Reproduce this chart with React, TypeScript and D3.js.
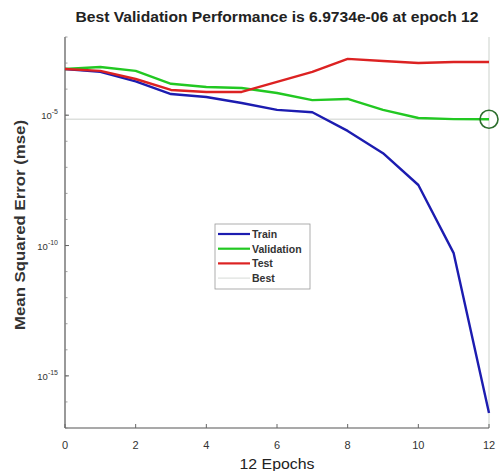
import { line, scaleLinear, scaleLog } from "d3";

const WIDTH = 501;
const HEIGHT = 471;
const MARGIN = { top: 37, right: 12, bottom: 43, left: 65 };

const EPOCHS = [0, 1, 2, 3, 4, 5, 6, 7, 8, 9, 10, 11, 12];
const TRAIN = [5.9e-4, 4.6e-4, 2.0e-4, 6.5e-5, 5.0e-5, 2.95e-5, 1.6e-5, 1.3e-5, 2.5e-6, 3.5e-7, 2.1e-8, 5.1e-11, 3.8e-17];
const VALIDATION = [5.9e-4, 7.1e-4, 5.0e-4, 1.6e-4, 1.2e-4, 1.1e-4, 7.1e-5, 3.8e-5, 4.2e-5, 1.6e-5, 7.8e-6, 7.1e-6, 6.9734e-6];
const TEST = [5.9e-4, 5.0e-4, 2.45e-4, 9.3e-5, 7.8e-5, 7.8e-5, 1.9e-4, 4.6e-4, 1.45e-3, 1.2e-3, 1.0e-3, 1.1e-3, 1.1e-3];

const BEST_EPOCH = 12;
const BEST_VALUE = 6.9734e-6;

const X_TICKS = [0, 2, 4, 6, 8, 10, 12];
const Y_TICK_EXPONENTS = [-5, -10, -15];
const Y_DOMAIN = [1e-17, 1e-2];

const SERIES = [
  { name: "Train", values: TRAIN, color: "#1c1cb0" },
  { name: "Validation", values: VALIDATION, color: "#22c822" },
  { name: "Test", values: TEST, color: "#dc2222" },
];

const BEST_COLOR = "#dde0dd";

export default function App() {
  const x = scaleLinear()
    .domain([0, 12])
    .range([MARGIN.left, WIDTH - MARGIN.right]);
  const y = scaleLog()
    .domain(Y_DOMAIN)
    .range([HEIGHT - MARGIN.bottom, MARGIN.top]);

  const path = line<number>()
    .x((_, i) => x(EPOCHS[i]))
    .y((d) => y(d));

  const bottom = HEIGHT - MARGIN.bottom;
  const minorDecades = Array.from({ length: 16 }, (_, i) => -17 + i);
  const font = "'Liberation Sans', Arial, sans-serif";

  const legendX = 215;
  const legendY = 224;
  const legendRows = [...SERIES, { name: "Best", values: [], color: BEST_COLOR }];

  return (
    <svg
      width={WIDTH}
      height={HEIGHT}
      viewBox={`0 0 ${WIDTH} ${HEIGHT}`}
      style={{ position: "absolute", left: 0, top: 0, background: "#fff" }}
      fontFamily={font}
    >
      <rect width={WIDTH} height={HEIGHT} fill="#fff" />

      {/* best markers */}
      <line x1={MARGIN.left} x2={WIDTH - MARGIN.right} y1={y(BEST_VALUE)} y2={y(BEST_VALUE)} stroke={BEST_COLOR} strokeWidth={1.5} />
      <line x1={x(BEST_EPOCH)} x2={x(BEST_EPOCH)} y1={MARGIN.top} y2={bottom} stroke={BEST_COLOR} strokeWidth={1.5} />

      {/* axes */}
      <line x1={MARGIN.left} x2={MARGIN.left} y1={MARGIN.top} y2={bottom} stroke="#555" strokeWidth={1.2} />
      <line x1={MARGIN.left} x2={WIDTH - MARGIN.right} y1={bottom} y2={bottom} stroke="#555" strokeWidth={1.2} />

      {minorDecades.map((e) => (
        <line key={e} x1={MARGIN.left} x2={MARGIN.left + 2.5} y1={y(Math.pow(10, e))} y2={y(Math.pow(10, e))} stroke="#888" strokeWidth={0.8} />
      ))}

      {X_TICKS.map((t) => (
        <g key={t}>
          <line x1={x(t)} x2={x(t)} y1={bottom} y2={bottom - 4} stroke="#666" strokeWidth={1} />
          <text x={x(t)} y={bottom + 21} textAnchor="middle" fontSize={11} fill="#333">
            {t}
          </text>
        </g>
      ))}

      {Y_TICK_EXPONENTS.map((e) => (
        <g key={e}>
          <line x1={MARGIN.left} x2={MARGIN.left + 4} y1={y(Math.pow(10, e))} y2={y(Math.pow(10, e))} stroke="#666" strokeWidth={1} />
          <text x={MARGIN.left - 7} y={y(Math.pow(10, e)) + 4} textAnchor="end" fontSize={9.5} fill="#333">
            10
            <tspan dy={-5} fontSize={7}>
              {e}
            </tspan>
          </text>
        </g>
      ))}

      {/* series */}
      {SERIES.map((s) => (
        <path key={s.name} d={path(s.values) ?? ""} fill="none" stroke={s.color} strokeWidth={2.4} strokeLinejoin="round" />
      ))}

      <circle cx={x(BEST_EPOCH)} cy={y(BEST_VALUE)} r={9} fill="none" stroke="#2d6e2d" strokeWidth={1.6} />

      {/* legend */}
      <rect x={legendX} y={legendY} width={95} height={65} fill="#fff" stroke="#999" strokeWidth={0.8} />
      {legendRows.map((row, i) => {
        const ry = legendY + 10 + i * 14.7;
        return (
          <g key={row.name}>
            <line x1={legendX + 3} x2={legendX + 35} y1={ry} y2={ry} stroke={row.color} strokeWidth={row.name === "Best" ? 1.2 : 2.2} />
            <text x={legendX + 37} y={ry + 4} fontSize={10.5} fontWeight="bold" fill="#333">
              {row.name}
            </text>
          </g>
        );
      })}

      {/* labels */}
      <text
        x={(MARGIN.left + WIDTH - MARGIN.right) / 2}
        y={22}
        textAnchor="middle"
        fontSize={14}
        fontWeight="bold"
        fill="#222"
        textLength={403}
        lengthAdjust="spacingAndGlyphs"
      >
        Best Validation Performance is 6.9734e-06 at epoch 12
      </text>
      <text
        x={(MARGIN.left + WIDTH - MARGIN.right) / 2}
        y={469}
        textAnchor="middle"
        fontSize={14}
        fill="#222"
        textLength={75}
        lengthAdjust="spacingAndGlyphs"
      >
        12 Epochs
      </text>
      <text
        transform={`translate(25, 225) rotate(-90)`}
        textAnchor="middle"
        fontSize={14}
        fontWeight="bold"
        fill="#333"
        textLength={210}
        lengthAdjust="spacingAndGlyphs"
      >
        Mean Squared Error  (mse)
      </text>
    </svg>
  );
}
